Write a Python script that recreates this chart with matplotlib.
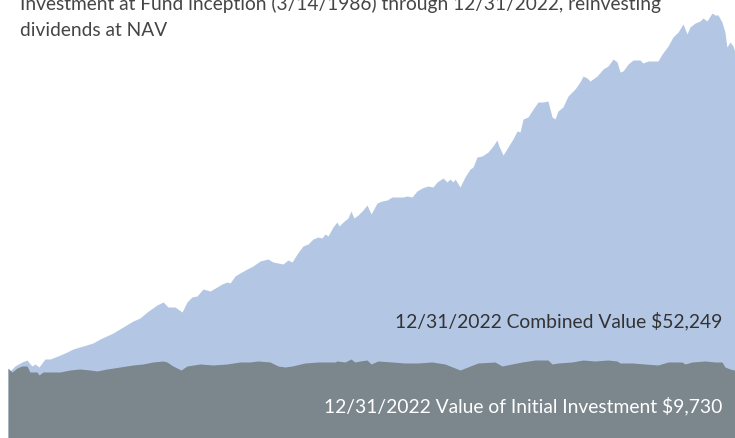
import matplotlib
matplotlib.use("Agg")
import matplotlib.pyplot as plt

# Growth of a $10,000 investment, dividends reinvested at NAV (decimal years, dollars)
combined_years = [
    1986.20, 1986.30, 1986.55, 1986.91, 1987.16, 1987.41, 1987.57, 1987.77, 1988.07, 1988.33,
    1988.73, 1989.19, 1989.49, 1990.00, 1990.50, 1990.86, 1991.52, 1992.02, 1992.53, 1992.88,
    1993.24, 1993.74, 1994.05, 1994.30, 1994.65, 1995.01, 1995.26, 1995.51, 1995.77, 1996.07,
    1996.43, 1996.78, 1997.03, 1997.29, 1997.44, 1997.69, 1997.94, 1998.30, 1998.60, 1998.96,
    1999.36, 1999.61, 1999.87, 2000.12, 2000.37, 2000.58, 2000.83, 2001.13, 2001.39, 2001.64,
    2001.89, 2002.09, 2002.25, 2002.40, 2002.65, 2002.85, 2002.96, 2003.16, 2003.41, 2003.56,
    2003.71, 2003.92, 2004.17, 2004.37, 2004.58, 2004.88, 2005.13, 2005.39, 2005.64, 2005.94,
    2006.19, 2006.40, 2006.65, 2006.90, 2007.16, 2007.46, 2007.71, 2007.92, 2008.22, 2008.42,
    2008.57, 2008.73, 2008.83, 2009.08, 2009.33, 2009.59, 2009.74, 2009.94, 2010.19, 2010.50,
    2010.75, 2010.95, 2011.05, 2011.26, 2011.51, 2011.76, 2011.97, 2012.12, 2012.27, 2012.52,
    2012.78, 2013.03, 2013.28, 2013.53, 2013.74, 2013.89, 2014.04, 2014.29, 2014.55, 2014.90,
    2015.15, 2015.31, 2015.51, 2015.66, 2016.02, 2016.32, 2016.57, 2016.83, 2017.03, 2017.18,
    2017.33, 2017.59, 2017.84, 2018.19, 2018.34, 2018.60, 2018.85, 2019.10, 2019.31, 2019.61,
    2019.86, 2020.12, 2020.37, 2020.57, 2020.72, 2020.98, 2021.23, 2021.38, 2021.58, 2021.84,
    2021.99, 2022.14, 2022.34, 2022.49, 2022.59, 2022.75, 2022.90, 2023.00,
]
combined_values = [
    10000, 9626, 10294, 10829, 11096, 10294, 10561, 10160, 11230, 11230,
    11631, 12166, 12567, 12968, 13369, 13904, 14706, 15508, 16310, 16711,
    17513, 18449, 18850, 18182, 18182, 17513, 18850, 19519, 19652, 20588,
    20321, 20856, 21257, 21524, 21390, 22326, 22727, 23262, 23663, 24332,
    24599, 24198, 24064, 23931, 24465, 24198, 25267, 26337, 26604, 27273,
    27540, 27406, 27941, 27674, 28877, 29545, 29011, 29545, 30080, 31016,
    30080, 30481, 31150, 31818, 30615, 32086, 32353, 32487, 32888, 32888,
    32888, 33021, 32888, 33690, 34091, 34358, 34225, 34893, 35428, 34893,
    35294, 34893, 35294, 34225, 35562, 36631, 36898, 38235, 38369, 38904,
    39706, 40508, 39706, 38503, 39572, 40642, 41711, 41578, 43316, 43583,
    44652, 45588, 45588, 45722, 43583, 43316, 44385, 44920, 46390, 47326,
    48262, 49064, 48797, 48396, 49064, 50000, 50401, 51337, 50936, 49599,
    49733, 50669, 51203, 51203, 50802, 51070, 51070, 51070, 52005, 53075,
    54278, 54947, 56016, 54679, 55615, 56150, 56417, 56818, 56417, 57487,
    57219, 57219, 56283, 54947, 52941, 53610, 53075, 52249,
]

# Value of the initial $10,000 without reinvested dividends
initial_years = [
    1986.20, 1986.40, 1986.66, 1986.91, 1987.16, 1987.31, 1987.47, 1987.67, 1987.77, 1987.97,
    1988.33, 1988.83, 1989.34, 1989.84, 1990.35, 1990.71, 1991.21, 1991.87, 1992.53, 1993.03,
    1993.54, 1994.05, 1994.25, 1994.55, 1994.96, 1995.26, 1995.92, 1996.58, 1997.29, 1997.94,
    1998.45, 1998.86, 1999.46, 1999.87, 2000.22, 2000.58, 2001.23, 2001.89, 2002.75, 2002.85,
    2003.26, 2003.56, 2003.76, 2004.02, 2004.37, 2004.58, 2004.93, 2005.64, 2006.30, 2006.95,
    2007.66, 2008.32, 2009.08, 2009.99, 2010.85, 2011.21, 2011.71, 2012.22, 2012.88, 2013.53,
    2013.74, 2014.04, 2014.75, 2015.31, 2015.91, 2016.57, 2017.03, 2017.18, 2017.79, 2018.45,
    2019.10, 2019.61, 2020.32, 2020.47, 2020.82, 2021.48, 2021.99, 2022.34, 2022.49, 2022.75,
    2023.00,
]
initial_values = [
    10000, 9492, 10027, 10294, 10294, 9492, 9492, 9492, 9091, 9492,
    9492, 9492, 9759, 9893, 9759, 9626, 9893, 10160, 10428, 10561,
    10829, 10963, 10829, 10294, 9759, 10294, 10561, 10428, 10561, 10829,
    10829, 10963, 10829, 10294, 10160, 10294, 10695, 10829, 10829, 10963,
    10829, 11230, 10829, 10963, 11096, 10561, 10963, 10829, 10695, 10695,
    10829, 10561, 9759, 10695, 10829, 10294, 10561, 10829, 11096, 11096,
    10561, 10695, 10829, 11096, 10963, 11096, 10963, 10695, 10695, 10561,
    10428, 10829, 10829, 10561, 10829, 10963, 10829, 10829, 10160, 9893,
    9730,
]

title_lines = [
    "Investment at Fund inception (3/14/1986) through 12/31/2022, reinvesting",
    "dividends at NAV",
]
combined_label = "12/31/2022 Combined Value $52,249"
initial_label = "12/31/2022 Value of Initial Investment $9,730"

BLUE = "#b3c7e5"
GRAY = "#7b868d"
FONT = ["Lato", "DejaVu Sans"]

fig = plt.figure(figsize=(7.35, 4.39), dpi=100)
ax = fig.add_axes([0, 0, 1, 1])

ax.fill_between(combined_years, 0, combined_values, color=BLUE, lw=0)
ax.fill_between(initial_years, 0, initial_values, color=GRAY, lw=0)

ax.set_xlim(1985.795, 2023.0)
ax.set_ylim(668, 59358)
ax.axis("off")

for i, line in enumerate(title_lines):
    fig.text(20 / 735, 1 - (10 + 26 * i) / 439, line, ha="left", va="baseline",
             fontsize=13.8, color="#454545", family=FONT)
fig.text(722 / 735, 1 - 327 / 439, combined_label, ha="right", va="baseline",
         fontsize=13.9, color="#333333", family=FONT)
fig.text(722 / 735, 1 - 412 / 439, initial_label, ha="right", va="baseline",
         fontsize=13.9, color="white", family=FONT)

fig.savefig("out.png", dpi=100)
